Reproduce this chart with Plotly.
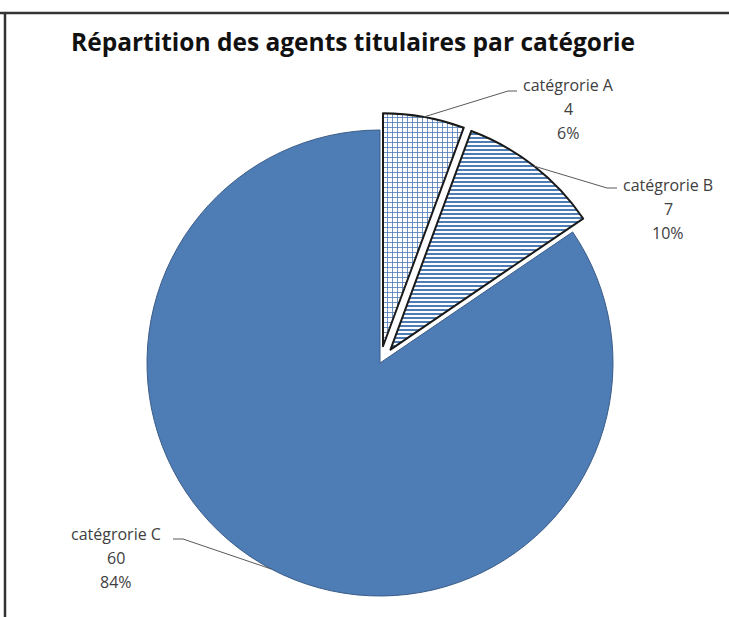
import math
import plotly.graph_objects as go

# ---- data ----
categories = ["catégrorie A", "catégrorie B", "catégrorie C"]
values = [4, 7, 60]
percent_labels = ["6%", "10%", "84%"]
title_text = "Répartition des agents titulaires par catégorie"

# ---- layout constants (pixels) ----
W, H = 729, 617
CX, CY, R = 380, 363, 233
PULL = 0.073
BLUE = "#4E7CB5"


def px(x):
    return x / W


def py(y):
    return 1 - y / H


ext = R * (1 + PULL)
pulls = [PULL, PULL, 0]

fig = go.Figure(
    go.Pie(
        labels=categories,
        values=values,
        sort=False,
        direction="clockwise",
        rotation=0,
        pull=pulls,
        textinfo="none",
        hoverinfo="label+value+percent",
        showlegend=False,
        marker=dict(
            colors=["white", "white", BLUE],
            pattern=dict(
                shape=["+", "-", ""],
                fgcolor=[BLUE, BLUE, BLUE],
                bgcolor=["white", "white", BLUE],
                size=[5, 4, 4],
                solidity=[0.3, 0.5, 0.5],
            ),
            line=dict(color=["#1a1a1a", "#1a1a1a", "#3b5d88"], width=[2, 2, 1]),
        ),
        domain=dict(x=[px(CX - ext), px(CX + ext)], y=[py(CY + ext), py(CY - ext)]),
    )
)

# label positions (pixels): text center x, line ys, elbow, end of horizontal tick
label_pos = [
    dict(x=568, ys=[85, 109, 133], elbow=(508, 91), tick=(517, 91)),
    dict(x=668, ys=[185, 209, 233], elbow=(607, 188), tick=(617, 188)),
    dict(x=116, ys=[534, 558, 582], elbow=(183, 539), tick=(173, 539)),
]

total = sum(values)
shapes = []
annotations = []
cum = 0
for i, (cat, v, pct) in enumerate(zip(categories, values, percent_labels)):
    mid = (cum + v / 2) / total * 2 * math.pi
    cum += v
    off = pulls[i] * R
    ax = CX + (off + R) * math.sin(mid)
    ay = CY - (off + R) * math.cos(mid)
    lp = label_pos[i]
    ex, ey = lp["elbow"]
    tx, ty = lp["tick"]
    shapes.append(dict(type="path", xref="paper", yref="paper",
                       path=f"M {px(ax)} {py(ay)} L {px(ex)} {py(ey)} L {px(tx)} {py(ty)}",
                       line=dict(color="#595959", width=1)))
    for txt, yy in zip([cat, str(v), pct], lp["ys"]):
        annotations.append(dict(text=txt, x=px(lp["x"]), y=py(yy), xref="paper", yref="paper",
                                xanchor="center", yanchor="middle", showarrow=False,
                                font=dict(family="Open Sans", size=16, color="#404040")))

annotations.append(dict(text="<b>" + title_text + "</b>", x=px(353), y=py(42), xref="paper", yref="paper",
                        xanchor="center", yanchor="middle", showarrow=False,
                        font=dict(family="Open Sans", size=24.5, color="#111111")))

# frame lines
shapes.append(dict(type="line", xref="paper", yref="paper", x0=0, x1=1, y0=py(13), y1=py(13),
                   line=dict(color="#333333", width=2.5)))
shapes.append(dict(type="line", xref="paper", yref="paper", x0=px(5), x1=px(5), y0=py(13), y1=0,
                   line=dict(color="#333333", width=2.5)))

fig.update_layout(
    width=W, height=H,
    margin=dict(l=0, r=0, t=0, b=0),
    paper_bgcolor="white",
    plot_bgcolor="white",
    shapes=shapes,
    annotations=annotations,
)

fig.write_html("out.html", config={"displayModeBar": False},
               post_script="document.body.style.margin='0';")
